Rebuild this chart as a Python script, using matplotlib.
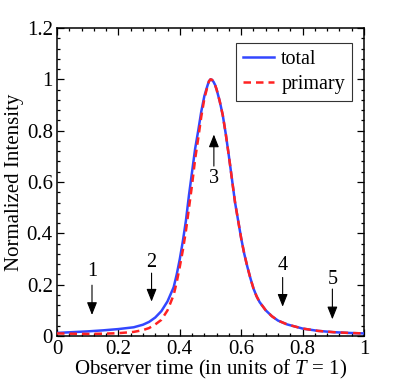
import matplotlib
matplotlib.use("Agg")
import matplotlib.pyplot as plt
from matplotlib.ticker import MultipleLocator, FuncFormatter

# ---- data ----
time_x = [0.00, 0.05, 0.10, 0.15, 0.20, 0.25, 0.28, 0.30, 0.32, 0.34, 0.36, 0.38,
          0.39, 0.40, 0.41, 0.42, 0.43, 0.44, 0.45, 0.46, 0.47, 0.48, 0.49, 0.495,
          0.50, 0.505, 0.51, 0.515, 0.52, 0.53, 0.54, 0.55, 0.56, 0.57,
          0.58, 0.59, 0.60, 0.61, 0.62, 0.63, 0.64, 0.65, 0.66, 0.68, 0.70, 0.72,
          0.75, 0.80, 0.85, 0.90, 0.95, 1.00]
total = [0.012, 0.015, 0.018, 0.022, 0.027, 0.034, 0.044, 0.055, 0.072, 0.097, 0.135, 0.19,
         0.24, 0.30, 0.37, 0.45, 0.55, 0.64, 0.73, 0.80, 0.875, 0.935, 0.975, 0.993,
         1.00, 0.998, 0.99, 0.978, 0.96, 0.915, 0.86, 0.785, 0.70, 0.61,
         0.52, 0.45, 0.38, 0.32, 0.27, 0.225, 0.185, 0.155, 0.132, 0.10, 0.077, 0.060,
         0.045, 0.029, 0.020, 0.015, 0.012, 0.010]
primary = [0.010, 0.009, 0.008, 0.009, 0.011, 0.016, 0.023, 0.031, 0.045, 0.063, 0.10, 0.16,
           0.21, 0.27, 0.335, 0.41, 0.50, 0.59, 0.69, 0.77, 0.855, 0.925, 0.972, 0.992,
           1.00, 0.998, 0.99, 0.978, 0.96, 0.915, 0.86, 0.785, 0.70, 0.61,
           0.52, 0.45, 0.38, 0.32, 0.27, 0.225, 0.185, 0.155, 0.132, 0.10, 0.077, 0.060,
           0.045, 0.029, 0.020, 0.015, 0.012, 0.010]

marker_labels = ["1", "2", "3", "4", "5"]
marker_x = [0.114, 0.308, 0.511, 0.735, 0.897]
# (text y, arrow tail y, arrow head y)
marker_text_y = [0.250, 0.285, 0.615, 0.273, 0.221]
marker_tail_y = [0.198, 0.245, 0.662, 0.228, 0.183]
marker_head_y = [0.082, 0.134, 0.785, 0.114, 0.065]

x_ticks = [0, 0.2, 0.4, 0.6, 0.8, 1.0]
y_ticks = [0, 0.2, 0.4, 0.6, 0.8, 1.0, 1.2]

plt.rcParams['font.family'] = ['Liberation Serif', 'DejaVu Serif']
plt.rcParams['mathtext.fontset'] = 'custom'
plt.rcParams['mathtext.it'] = 'Liberation Serif:italic'
plt.rcParams['mathtext.rm'] = 'Liberation Serif'

fig = plt.figure(figsize=(4.03, 3.82), dpi=100)
ax = fig.add_axes([57/403, 1 - 336/382, (364 - 57)/403, (336 - 28)/382])

ax.plot(time_x, total, color='#3347ff', lw=1.8, label='total', zorder=3)
ax.plot(time_x, primary, color='#ff2222', lw=1.8, ls=(0, (3.0, 2.0)), label='primary', zorder=4)

for lab, x, ty, t0, t1 in zip(marker_labels, marker_x, marker_text_y, marker_tail_y, marker_head_y):
    ax.text(x, ty, lab, ha='center', va='center', fontsize=14.5)
    ax.annotate('', xy=(x, t1), xytext=(x, t0),
                arrowprops=dict(arrowstyle='-|>,head_length=0.55,head_width=0.22', color='k', lw=0.8,
                                mutation_scale=14, shrinkA=0, shrinkB=0))

ax.set_xlim(0, 1)
ax.set_ylim(0, 1.2)
ax.set_xticks(x_ticks)
ax.set_yticks(y_ticks)
fmt = FuncFormatter(lambda v, p: ('%g' % round(v, 3)))
ax.xaxis.set_major_formatter(fmt)
ax.yaxis.set_major_formatter(fmt)
ax.xaxis.set_minor_locator(MultipleLocator(0.04))
ax.yaxis.set_minor_locator(MultipleLocator(0.04))
ax.tick_params(which='both', direction='in', top=True, right=True, labelsize=15, width=0.9)
ax.tick_params(which='major', length=5, pad=3)
ax.tick_params(which='minor', length=2.5)
for s in ax.spines.values():
    s.set_linewidth(1.1)

ax.set_xlabel(r'Observer time (in units of $\mathit{T}$ = 1)', fontsize=15, labelpad=-1)
ax.set_ylabel('Normalized Intensity', fontsize=15, labelpad=2)

leg = ax.legend(loc='upper right', fontsize=14.5,
                frameon=True, fancybox=False, edgecolor='#333333', handlelength=1.55,
                handletextpad=0.35, borderpad=0.35, labelspacing=0.3, borderaxespad=0)
leg.set_bbox_to_anchor(((352 - 57)/307, (336 - 42.7)/308), transform=ax.transAxes)
leg.get_frame().set_linewidth(0.8)
leg.get_frame().set_alpha(1)

fig.savefig('out.png', dpi=100)
